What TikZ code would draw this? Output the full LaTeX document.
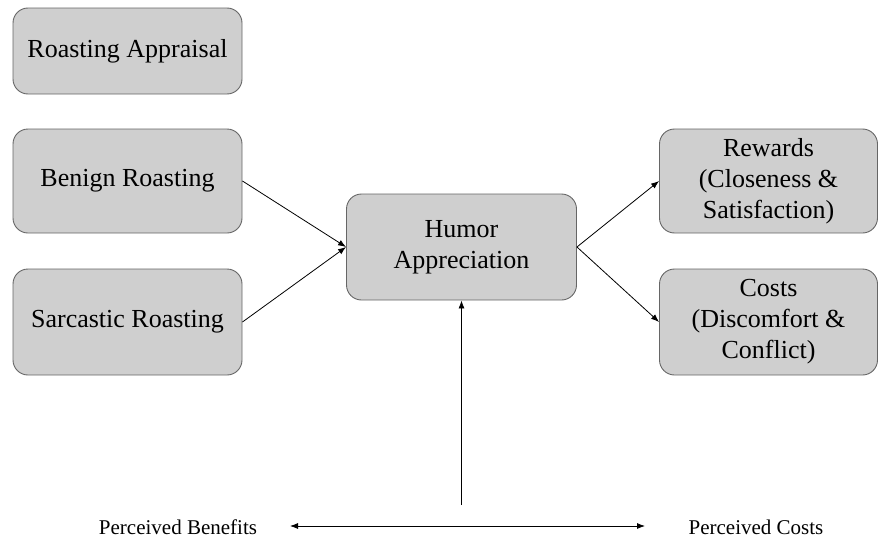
\documentclass[tikz,border=0pt]{standalone}
\usepackage{fontspec}
\setmainfont{LiberationSerif}[Extension=.ttf, UprightFont=*-Regular, BoldFont=*-Bold]
\usetikzlibrary{arrows.meta}

\begin{document}
\begin{tikzpicture}[x=1pt,y=-1pt,>={Latex[length=8pt,width=6pt]}]
      \useasboundingbox (0,0) rectangle (880,538);
      \tikzstyle{box}=[draw=black!60, fill=black!19, rounded corners=15pt, line width=0.9pt,
        align=center, inner sep=2pt, font=\rmfamily\fontsize{26}{31}\selectfont]
      \tikzstyle{link}=[->, line width=0.8pt]
      \tikzstyle{side}=[font=\rmfamily\fontsize{21}{25}\selectfont, inner sep=0pt]
      \foreach \name/\txt/\x/\y/\w/\h in {appr/{Roasting Appraisal}/127.5/51/229/86,
          benign/{Benign Roasting}/127.5/181/229/104, sarc/{Sarcastic Roasting}/127.5/322/229/106,
          humor/{Humor\\Appreciation}/461.5/247/230/106,
          rew/{Rewards\\(Closeness \&\\Satisfaction)}/768.5/181/218/104,
          cost/{Costs\\(Discomfort \&\\Conflict)}/768.5/322/218/106}
        \node[box, minimum width=\w pt, minimum height=\h pt] (G-\name) at (\x,\y) {\txt};

      \foreach \from/\to in {benign.east/humor.west, sarc.east/humor.west, humor.east/rew.west, humor.east/cost.west}
        \draw[link] (G-\from) -- (G-\to);

      % bottom scale
      \node[side] (G-ben) at (178,527) {Perceived Benefits};
      \node[side] (G-cst) at (756,527) {Perceived Costs};
      \coordinate (G-left) at (290,526);
      \coordinate (G-right) at (645,526);
      \coordinate (G-base) at (461.5,505);
      \draw[link] (G-base) -- (G-humor.south);
      \draw[link, <->] (G-left) -- (G-right);
    \end{tikzpicture}
\end{document}
